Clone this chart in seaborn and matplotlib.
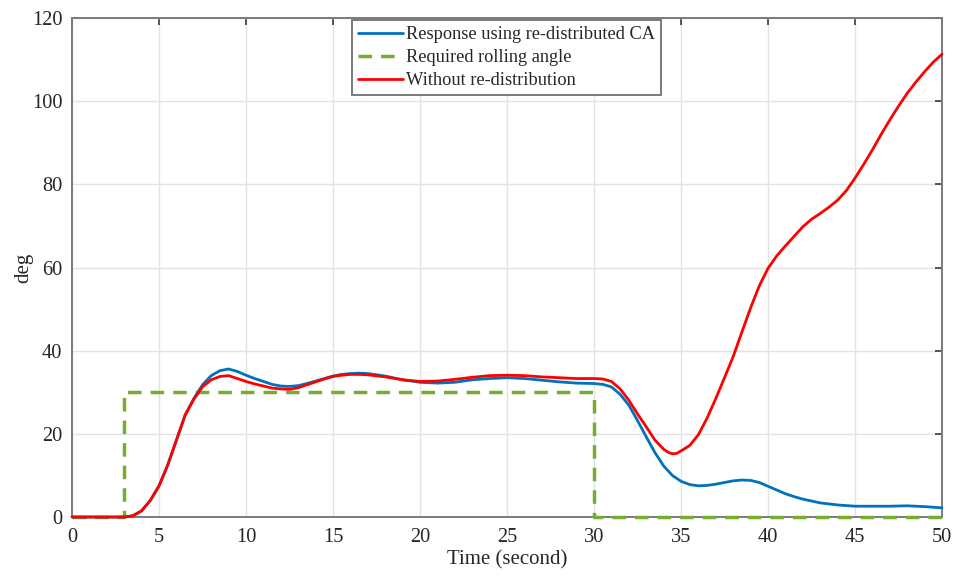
import matplotlib
matplotlib.use("Agg")
import matplotlib.pyplot as plt
import seaborn as sns
import pandas as pd

# Roll response with re-distributed control allocation
t_ca = [0, 1, 2, 3, 3.5, 4, 4.5, 5, 5.5, 6, 6.5, 7, 7.5, 8, 8.5, 9, 9.5, 10,
        10.5, 11, 11.5, 12, 12.5, 13, 13.5, 14, 14.5, 15, 15.5, 16, 16.5, 17,
        18, 19, 20, 21, 22, 23, 24, 25, 26, 27, 28, 29, 30, 30.5, 31, 31.5,
        32, 32.5, 33, 33.5, 34, 34.5, 35, 35.5, 36, 36.5, 37, 37.5, 38, 38.5,
        39, 39.5, 40, 40.5, 41, 41.5, 42, 43, 44, 45, 46, 47, 48, 49, 50]
roll_ca = [0, 0, 0, 0, 0.3, 1.5, 4, 7.5, 12.5, 18.5, 24.5, 28.5, 31.8, 34.0,
           35.2, 35.6, 35.0, 34.1, 33.3, 32.6, 31.9, 31.5, 31.4, 31.6, 32.1,
           32.7, 33.3, 33.9, 34.3, 34.5, 34.6, 34.5, 33.9, 33.0, 32.4, 32.2,
           32.4, 33.0, 33.3, 33.5, 33.3, 32.9, 32.5, 32.2, 32.1, 31.9, 31.3,
           29.5, 26.9, 23.2, 19.3, 15.5, 12.3, 10.0, 8.6, 7.8, 7.5, 7.6, 7.9,
           8.3, 8.7, 8.9, 8.8, 8.3, 7.4, 6.5, 5.6, 4.9, 4.3, 3.4, 2.9, 2.6,
           2.6, 2.6, 2.7, 2.5, 2.2]

# Roll response without re-distribution
t_nr = [0, 1, 2, 3, 3.5, 4, 4.5, 5, 5.5, 6, 6.5, 7, 7.5, 8, 8.5, 9, 9.5, 10,
        10.5, 11, 11.5, 12, 12.5, 13, 13.5, 14, 14.5, 15, 15.5, 16, 16.5, 17,
        18, 19, 20, 21, 22, 23, 24, 25, 26, 27, 28, 29, 30, 30.5, 31, 31.5,
        32, 32.5, 33, 33.5, 34, 34.25, 34.5, 34.75, 35, 35.5, 36, 36.5, 37,
        37.5, 38, 38.5, 39, 39.5, 40, 40.5, 41, 41.5, 42, 42.5, 43, 43.5, 44,
        44.5, 45, 45.5, 46, 46.5, 47, 47.5, 48, 48.5, 49, 49.5, 50]
roll_nr = [0, 0, 0, 0, 0.3, 1.5, 4, 7.5, 12.5, 18.5, 24.5, 28.3, 31.3, 33.0,
           33.8, 34.0, 33.3, 32.6, 32.0, 31.5, 31.0, 30.8, 30.7, 31.1, 31.8,
           32.5, 33.2, 33.8, 34.1, 34.3, 34.3, 34.2, 33.7, 33.0, 32.6, 32.7,
           33.1, 33.6, 34.0, 34.1, 34.0, 33.7, 33.5, 33.3, 33.3, 33.2, 32.6,
           30.8, 28.1, 24.8, 21.7, 18.5, 16.3, 15.6, 15.2, 15.3, 15.9, 17.2,
           19.8, 23.8, 28.5, 33.5, 38.6, 44.5, 50.3, 55.6, 59.8, 62.8, 65.2,
           67.5, 69.8, 71.6, 73.0, 74.5, 76.2, 78.5, 81.5, 84.8, 88.3, 92.0,
           95.5, 98.8, 101.9, 104.6, 107.1, 109.4, 111.3]

# Commanded rolling angle (step up at 3 s, back to zero at 30 s)
t_req = [0, 3, 3, 30, 30, 50]
roll_req = [0, 0, 30, 30, 0, 0]

labels = ["Response using re-distributed CA", "Required rolling angle",
          "Without re-distribution"]
colors = ["#0072BD", "#77AC30", "#FF0000"]
x_ticks = [0, 5, 10, 15, 20, 25, 30, 35, 40, 45, 50]
y_ticks = [0, 20, 40, 60, 80, 100, 120]

sns.set_theme(style="whitegrid")
plt.rcParams["font.family"] = ["Liberation Serif", "DejaVu Serif"]

df_ca = pd.DataFrame({"t": t_ca, "deg": roll_ca})
df_nr = pd.DataFrame({"t": t_nr, "deg": roll_nr})
df_req = pd.DataFrame({"t": t_req, "deg": roll_req})

fig = plt.figure(figsize=(9.58, 5.76), dpi=100)
ax = fig.add_axes([0.0752, 0.1024, 0.9081, 0.8663])

sns.lineplot(data=df_ca, x="t", y="deg", ax=ax, color=colors[0], lw=2.0,
             label=labels[0], estimator=None, sort=False, zorder=3)
sns.lineplot(data=df_req, x="t", y="deg", ax=ax, color=colors[1], lw=2.5,
             label=labels[1], estimator=None, sort=False, zorder=2.8)
ax.lines[-1].set_dashes((3.9, 2.6))
sns.lineplot(data=df_nr, x="t", y="deg", ax=ax, color=colors[2], lw=2.0,
             label=labels[2], estimator=None, sort=False, zorder=4)
for ln in ax.lines:
    ln.set_clip_on(False)
    ln.set_solid_joinstyle("round")

ax.set_xlim(0, 50)
ax.set_ylim(0, 120)
ax.set_xticks(x_ticks)
ax.set_yticks(y_ticks)
ax.set_xticklabels([str(v) for v in x_ticks])
ax.set_yticklabels([str(v) for v in y_ticks])

ax.set_facecolor("white")
ax.grid(True, color="#e3e3e3", lw=1.0)
for side in ["left", "right", "top", "bottom"]:
    ax.spines[side].set_visible(True)
    ax.spines[side].set_color("#7a7a7a")
    ax.spines[side].set_linewidth(1.4)
    ax.spines[side].set_zorder(1.5)
ax.tick_params(axis="both", which="both", direction="in", length=5,
               width=1.2, color="#3a3a3a", labelsize=14.7,
               labelcolor="#262626", top=True, right=True, pad=8)
ax.tick_params(axis="y", pad=7)

ax.set_xlabel("Time (second)", fontsize=15, color="#262626", labelpad=2)
ax.set_ylabel("deg", fontsize=15, color="#262626", labelpad=-1)

leg = ax.legend(loc="upper center", bbox_to_anchor=(0.4994, 1.0),
                borderaxespad=0.11, fontsize=13.2, frameon=True,
                fancybox=False, framealpha=1.0, edgecolor="#7a7a7a",
                handlelength=2.45, handletextpad=0.16, labelspacing=0.33,
                borderpad=0.33)
leg.get_frame().set_linewidth(1.4)
leg.set_zorder(6)
for txt in leg.get_texts():
    txt.set_color("#262626")

fig.savefig("out.png", dpi=100, facecolor="white")
